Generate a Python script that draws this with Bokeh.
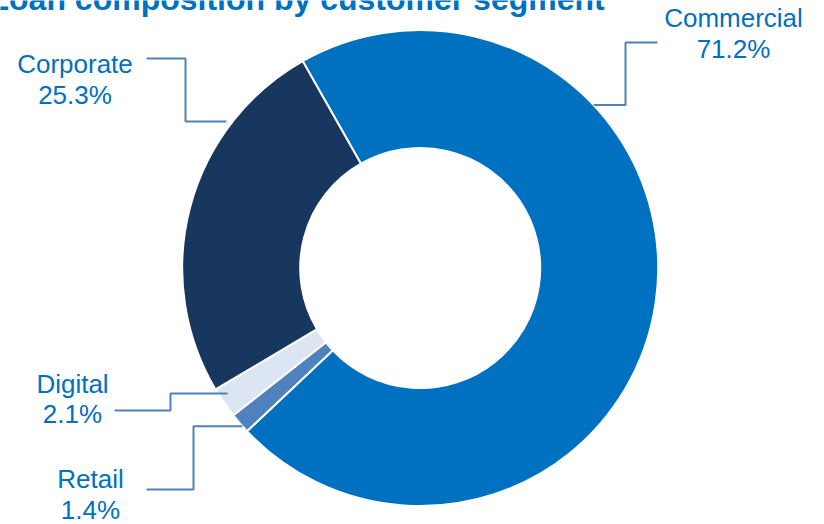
import numpy as np
from bokeh.plotting import figure
from bokeh.models import Range1d, ColumnDataSource
from bokeh.core.properties import value
from bokeh.embed import file_html
from bokeh.resources import INLINE

# ---- data (clockwise order from the top-left boundary) ----
segments = ["Commercial", "Retail", "Digital", "Corporate"]
shares = [71.2, 1.4, 2.1, 25.3]
colors = ["#0070C0", "#4F81BD", "#DCE6F2", "#17375E"]
title_text = "Loan composition by customer segment"

# ---- layout ----
W, H = 824, 524
CX, CY = 419.7, H - 267.5
R_OUT, R_IN = 238, 120
START_DEG = 119.6
TEXT_COLOR = "#0070C0"
LINE_COLOR = "#4F81BD"
FONT = "Liberation Sans"
TEXT_SHIFT = 10  # baseline correction (px)

# label layout (screen px): anchor fraction within slice, anchor radius, elbow x, line y, end x, text cx, baselines
label_layout = {
    "Commercial": dict(frac=0.298, r=238, elbow=625, line=42, end=657, cx=733, b1=27, b2=58),
    "Retail": dict(frac=0.32, r=238, elbow=193, line=489, end=146, cx=90, b1=488, b2=519),
    "Digital": dict(frac=0.68, r=230, elbow=170, line=410, end=114, cx=72, b1=393, b2=423),
    "Corporate": dict(frac=0.744, r=243, elbow=185, line=58, end=146, cx=74.5, b1=73, b2=104),
}

p = figure(width=W, height=H, x_range=Range1d(0, W), y_range=Range1d(0, H),
           output_backend="svg", toolbar_location=None, min_border=0,
           x_axis_location=None, y_axis_location=None)
p.grid.visible = False
p.outline_line_color = None
p.background_fill_color = "white"
p.border_fill_color = "white"

frac = np.array(shares) / sum(shares)
cum = np.concatenate([[0], np.cumsum(frac)])
starts = np.deg2rad(START_DEG - cum[:-1] * 360)
ends = np.deg2rad(START_DEG - cum[1:] * 360)

src = ColumnDataSource(dict(start=starts, end=ends, color=colors, seg=segments))
p.annular_wedge(x=CX, y=CY, inner_radius=R_IN, outer_radius=R_OUT,
                start_angle="start", end_angle="end", direction="clock",
                fill_color="color", line_color="white", line_width=2, source=src)

# leader lines
xs, ys = [], []
tx, ty, tt = [], [], []
for i, seg in enumerate(segments):
    L = label_layout[seg]
    ang = starts[i] + (ends[i] - starts[i]) * L["frac"]
    ax = CX + L["r"] * np.cos(ang)
    ay = CY + L["r"] * np.sin(ang)
    xs.append([ax, L["elbow"], L["elbow"], L["end"]])
    ys.append([ay, ay, H - L["line"], H - L["line"]])
    tx += [L["cx"], L["cx"]]
    ty += [H - L["b1"] + TEXT_SHIFT, H - L["b2"] + TEXT_SHIFT]
    tt += [seg, f"{shares[i]:.1f}%"]

p.multi_line(xs=xs, ys=ys, line_color=LINE_COLOR, line_width=2)

p.text(x=tx, y=ty, text=tt, text_align="center", text_baseline="alphabetic",
       text_color=TEXT_COLOR, text_font=value(FONT), text_font_size="26px")

# title (partially clipped at the top, as in the reference)
p.text(x=[-11], y=[H - 8 + TEXT_SHIFT], text=[title_text], text_align="left",
       text_baseline="alphabetic", text_color=TEXT_COLOR, text_font=value(FONT),
       text_font_size="32px", text_font_style="bold")

open("out.html", "w").write(file_html(p, INLINE))
